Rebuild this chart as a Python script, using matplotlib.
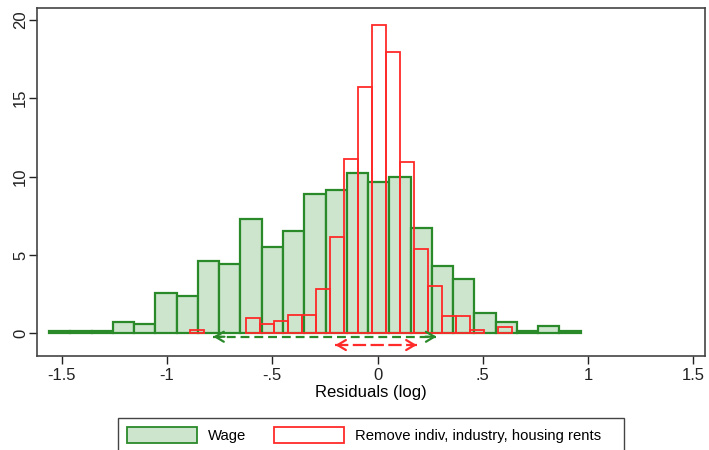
import numpy as np
import matplotlib
matplotlib.use("Agg")
import matplotlib.pyplot as plt
from matplotlib.patches import Patch, Rectangle

plt.rcParams['font.family'] = ['Liberation Sans', 'DejaVu Sans']

# ---- data (percent of observations per bin) ----
wage_start = -1.56
wage_width = 0.101
wage_pct = [0.12, 0.12, 0.12, 0.74, 0.59, 2.55, 2.40, 4.61, 4.44, 7.27, 5.49, 6.55,
            8.89, 9.17, 10.25, 9.66, 10.00, 6.70, 4.31, 3.44, 1.32, 0.74, 0.12, 0.47, 0.12]

resid_start = -0.891
resid_width = 0.0666
resid_pct = [0.19, 0.0, 0.0, 0.0, 0.96, 0.59, 0.77, 1.15, 1.15, 2.83, 6.13, 11.14,
             15.74, 19.66, 17.97, 10.95, 5.38, 3.00, 1.12, 1.12, 0.21, 0.0, 0.40]

# dispersion arrows: (x_from, x_to, y)
arrow_wage = (-0.78, 0.28, -0.22)
arrow_resid = (-0.20, 0.186, -0.75)

x_ticks = [-1.5, -1, -0.5, 0, 0.5, 1, 1.5]
x_ticklabels = ['-1.5', '-1', '-.5', '0', '.5', '1', '1.5']
y_ticks = [0, 5, 10, 15, 20]
y_ticklabels = ['0', '5', '10', '15', '20']
xlabel = 'Residuals (log)'
legend_labels = ['Wage', 'Remove indiv, industry, housing rents']

GREEN = '#2a8a2a'
GREEN_FILL = '#cce5cc'
RED = '#ff2a2a'

W, H = 709, 450
fig = plt.figure(figsize=(W / 100, H / 100), dpi=100)
ax = fig.add_axes([37 / W, 1 - 355.7 / H, (705 - 37) / W, (355.7 - 7.5) / H])

wage_edges = wage_start + wage_width * np.arange(len(wage_pct))
ax.bar(wage_edges, wage_pct, width=wage_width, align='edge',
       color=GREEN_FILL, edgecolor=GREEN, linewidth=1.6, zorder=2)

resid_edges = resid_start + resid_width * np.arange(len(resid_pct))
resid_arr = np.array(resid_pct)
mask = resid_arr > 0
ax.bar(resid_edges[mask], resid_arr[mask], width=resid_width, align='edge',
       color='none', edgecolor=RED, linewidth=1.3, zorder=3)


def dbl_arrow(spec, color, dashes, lw):
    x0, x1, y = spec
    ax.plot([x0, x1], [y, y], color=color, lw=lw, dashes=dashes,
            solid_capstyle='butt', zorder=4)
    for a, b in ((x0, x1), (x1, x0)):
        ax.annotate('', xy=(a, y), xytext=(a + (b - a) * 0.05, y),
                    arrowprops=dict(arrowstyle='->,head_length=0.6,head_width=0.36',
                                    color=color, lw=lw, shrinkA=0, shrinkB=0),
                    zorder=5)


dbl_arrow(arrow_wage, GREEN, (4, 2.2), 1.6)
dbl_arrow(arrow_resid, RED, (6, 2.0), 1.6)

ax.set_xlim(-1.6176, 1.5558)
ax.set_ylim(-1.43, 20.79)
ax.set_xticks(x_ticks)
ax.set_xticklabels(x_ticklabels)
ax.set_yticks(y_ticks)
ax.set_yticklabels(y_ticklabels, rotation=90, va='center')
ax.tick_params(direction='out', length=5.5, width=1, labelsize=12, pad=3.5, colors='#222222')
ax.tick_params(axis='y', pad=1.0)
ax.set_xlabel(xlabel, fontsize=12, labelpad=1.5)
for s in ax.spines.values():
    s.set_color('#444444')
    s.set_linewidth(1.2)

# legend
handles = [Patch(facecolor=GREEN_FILL, edgecolor=GREEN, linewidth=1.3),
           Patch(facecolor='white', edgecolor=RED, linewidth=1.3)]
fig.legend(handles, legend_labels, loc='center left',
           bbox_to_anchor=(126.7 / W, 1 - 435 / H), ncol=2, frameon=False,
           fontsize=10.7, handlelength=4.7, handleheight=1.25, handletextpad=0.78,
           columnspacing=1.85, borderpad=0, borderaxespad=0)
fig.add_artist(Rectangle((118.3 / W, 1 - 453 / H), (624.3 - 118.3) / W, (453 - 417.7) / H,
                         transform=fig.transFigure, facecolor='none',
                         edgecolor='#444444', linewidth=1.0))

fig.savefig('out.png', dpi=100)
